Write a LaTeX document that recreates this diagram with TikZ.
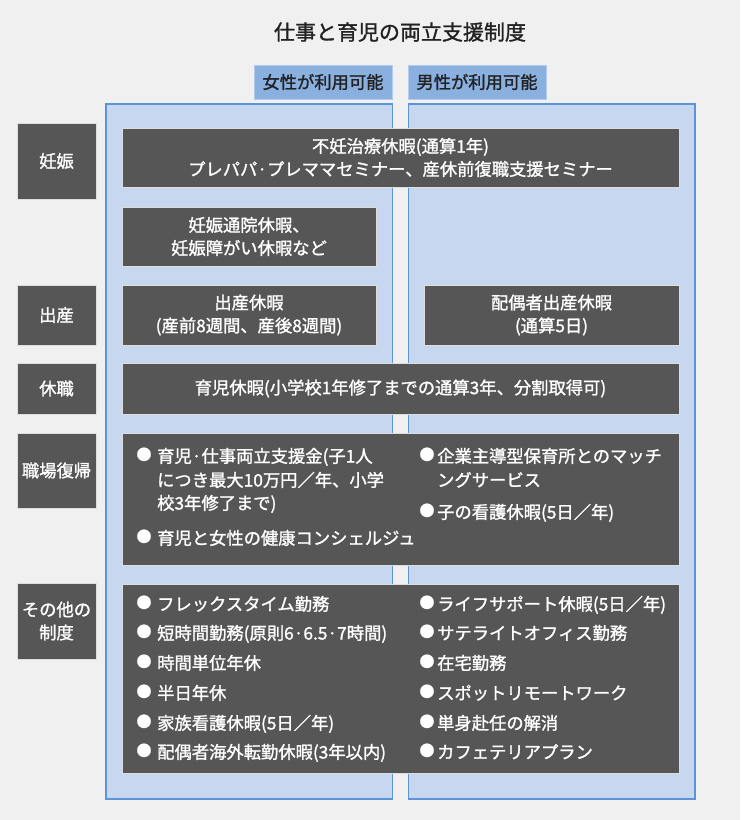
\documentclass[tikz,border=0pt]{standalone}
\usepackage{fontspec}
\setmainfont{Noto Sans CJK JP}[BoldFont={Noto Sans CJK JP},BoldFeatures={FakeBold=1.3}]
\definecolor{bg}{HTML}{F0F0F0}
\definecolor{colfill}{HTML}{C6D7EF}
\definecolor{colborder}{HTML}{5B95D9}
\definecolor{hdrfill}{HTML}{8AB0E0}
\definecolor{hdrborder}{HTML}{B3CCEE}
\definecolor{dk}{HTML}{575657}
\definecolor{ink}{HTML}{222222}
\newcommand{\fsz}[1]{\fontsize{#1}{23}\selectfont\bfseries}
\begin{document}
\begin{tikzpicture}[x=1pt,y=-1pt,
  darkbox/.style={fill=dk, draw=white!80!dk, line width=0.7pt, text=white, font=\fsz{17.3}, align=center, inner sep=0pt},
  colbox/.style={fill=colfill, draw=colborder, line width=1.5pt, inner sep=0pt},
  hdr/.style={fill=hdrfill, draw=hdrborder, line width=1pt, text=ink, font=\fsz{17.3}, inner sep=0pt},
  itm/.style={anchor=west, inner sep=0pt, text=white, font=\fsz{17.3}, text height=15pt, text depth=2pt},
  bul/.style={inner sep=0pt, text=white, font=\fsz{15}, text height=10pt, text depth=2pt}
]
\useasboundingbox[fill=bg] (0,0) rectangle (740,820);

% title
\node[text=ink, font=\fsz{21}, inner sep=0pt] (title) at (400,32) {仕事と育児の両立支援制度};

% headers
\node[hdr, minimum width=138, minimum height=34] (hL) at (323,82) {女性が利用可能};
\node[hdr, minimum width=138, minimum height=34] (hR) at (477,82) {男性が利用可能};

% columns
\node[colbox, minimum width=286.5, minimum height=695] (colL) at (249.25,451.5) {};
\node[colbox, minimum width=286.5, minimum height=695] (colR) at (551.75,451.5) {};

% row labels
\node[darkbox, minimum width=79, minimum height=76] (l1) at (56.5,161) {妊娠};
\node[darkbox, minimum width=79, minimum height=60] (l2) at (56.5,315) {出産};
\node[darkbox, minimum width=79, minimum height=51] (l3) at (56.5,388.5) {休職};
\node[darkbox, minimum width=79, minimum height=75] (l4) at (56.5,470.5) {職場復帰};
\node[darkbox, minimum width=79, minimum height=76] (l5) at (56.5,621) {その他の\\制度};

% content boxes
\node[darkbox, minimum width=557, minimum height=59] (c1) at (400.5,157.5) {不妊治療休暇(通算1年)\\プレパパ·プレママセミナー、産休前復職支援セミナー};
\node[darkbox, minimum width=254, minimum height=59] (c2) at (249,236.5) {妊娠通院休暇、\\妊娠障がい休暇など};
\node[darkbox, minimum width=254, minimum height=60] (c3) at (249,315) {出産休暇\\(産前8週間、産後8週間)};
\node[darkbox, minimum width=255, minimum height=60] (c4) at (551.5,315) {配偶者出産休暇\\(通算5日)};
\node[darkbox, minimum width=557, minimum height=51] (c5) at (400.5,388.5) {育児休暇(小学校1年修了までの通算3年、分割取得可)};
\node[darkbox, minimum width=557, minimum height=132] (c6) at (400.5,499) {};
\node[darkbox, minimum width=557, minimum height=189] (c7) at (400.5,678.5) {};

% 職場復帰 items
\node[bul] (b61) at (144,456) {●};
\node[itm] (t61a) at (157,456) {育児·仕事両立支援金(子1人};
\node[itm] (t61b) at (157,480) {につき最大10万円／年、小学};
\node[itm] (t61c) at (157,503) {校3年修了まで)};
\node[bul] (b62) at (144,538) {●};
\node[itm] (t62) at (157,538) {育児と女性の健康コンシェルジュ};
\node[bul] (b63) at (427,456) {●};
\node[itm] (t63a) at (437,456) {企業主導型保育所とのマッチ};
\node[itm] (t63b) at (437,480) {ングサービス};
\node[bul] (b64) at (427,512) {●};
\node[itm] (t64) at (437,512) {子の看護休暇(5日／年)};

% その他 items
\foreach \y/\lt/\rt [count=\i] in {
  604/フレックスタイム勤務/ライフサポート休暇(5日／年),
  633/短時間勤務(原則6·6.5·7時間)/サテライトオフィス勤務,
  663/時間単位年休/在宅勤務,
  693/半日年休/スポットリモートワーク,
  723/家族看護休暇(5日／年)/単身赴任の解消,
  752/配偶者海外転勤休暇(3年以内)/カフェテリアプラン}{
  \node[bul] (bl\i) at (144,\y) {●};
  \node[itm] (tl\i) at (157,\y) {\lt};
  \node[bul] (br\i) at (427,\y) {●};
  \node[itm] (tr\i) at (437,\y) {\rt};
}
\end{tikzpicture}
\end{document}
